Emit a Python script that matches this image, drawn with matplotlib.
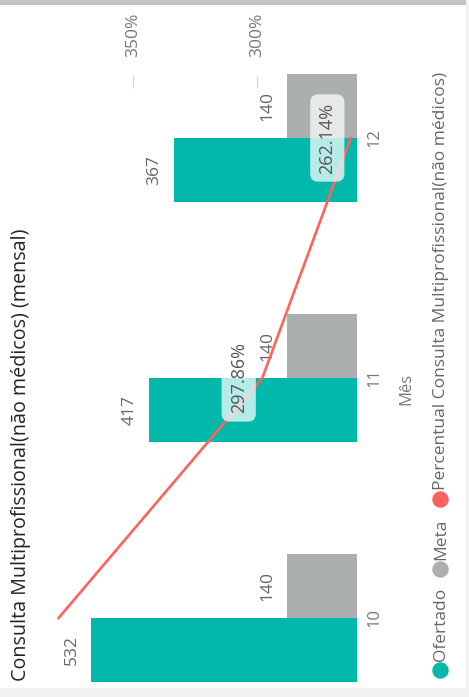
import matplotlib.pyplot as plt
from matplotlib.lines import Line2D
from matplotlib.patches import Rectangle

meses = ['10', '11', '12']
ofertado = [532, 417, 367]
meta = [140, 140, 140]
percentual = [380.00, 297.86, 262.14]
pct_labels = ['', '297.86%', '262.14%']

teal = '#01b8aa'
cinza = '#abafb0'
vermelho = '#fd625e'
plt.rcParams['font.family'] = ['Open Sans', 'DejaVu Sans']

W, H = 469, 697
fig = plt.figure(figsize=(W / 100, H / 100), dpi=100)
fig.patch.set_facecolor('white')


def fx(px):
    return px / W


def fy(py):
    return 1 - py / H


# moldura do print
fig.add_artist(Rectangle((0, fy(5)), 1, 5 / H, transform=fig.transFigure, color='#c4c4c4', lw=0))
fig.add_artist(Rectangle((0, 0), 1, fy(688), transform=fig.transFigure, color='#f2f2f2', lw=0))
fig.add_artist(Rectangle((fx(466), 0), 3 / W, 1, transform=fig.transFigure, color='#f2f2f2', lw=0))

ax = fig.add_axes([fx(40), fy(690), fx(357) - fx(40), fy(88) - fy(690)])
pos = list(range(len(meses)))
h = 0.2667
ax.barh([p - h / 2 for p in pos], ofertado, height=h, color=teal, clip_on=False)
ax.barh([p + h / 2 for p in pos], meta, height=h, color=cinza, clip_on=False)
ax.set_xlim(634, 0)
ax.set_ylim(-0.3, 2.2083)

for p, v in zip(pos, ofertado):
    ax.annotate(str(v), (v, p - h / 2), xytext=(-8, 0), textcoords='offset points',
                rotation=90, ha='right', va='center', fontsize=12.5, color='#666666')
for p, v in zip(pos, meta):
    ax.annotate(str(v), (v, p + h / 2), xytext=(-8, 0), textcoords='offset points',
                rotation=90, ha='right', va='center', fontsize=12.5, color='#666666')

for s in ax.spines.values():
    s.set_visible(False)
ax.set_xticks([])
ax.yaxis.tick_right()
ax.set_yticks(pos)
ax.set_yticklabels(meses, rotation=90, va='center', fontsize=12, color='#777777')
ax.tick_params(axis='y', length=0, pad=7)
ax.yaxis.set_label_position('right')
ax.set_ylabel('Mês', rotation=90, fontsize=12, color='#777777', labelpad=11)

ax2 = ax.twiny()
ax2.set_xlim(387.5, 259.68)
ax2.plot(percentual, pos, color=vermelho, lw=1.9, clip_on=False, zorder=3)
for s in ax2.spines.values():
    s.set_visible(False)
ax2.set_xticks([300, 350])
ax2.set_xticklabels(['300%', '350%'], rotation=90, fontsize=12.5, color='#777777')
ax2.tick_params(axis='x', direction='out', length=9, width=0.8, color='#d0d0d0', pad=13)
for p, v, t in zip(pos, percentual, pct_labels):
    if t:
        ax2.annotate(t, (v, p), xytext=(-17, 0), textcoords='offset points',
                     rotation=90, ha='center', va='center', fontsize=13, color='#555555',
                     zorder=5,
                     bbox=dict(boxstyle='round,pad=0.45', fc='white', ec='none', alpha=0.72))

# titulo
fig.text(fx(21), fy(681), 'Consulta Multiprofissional(não médicos) (mensal)', rotation=90,
         ha='center', va='bottom', fontsize=14.2, color='#252423')

# legenda
fig.canvas.draw()
r = fig.canvas.get_renderer()
y = 670
itens = [('Ofertado', teal), ('Meta', cinza),
         ('Percentual Consulta Multiprofissional(não médicos)', vermelho)]
for nome, cor in itens:
    fig.add_artist(Line2D([fx(440)], [fy(y)], marker='o', markersize=10.8, color=cor,
                          lw=0, transform=fig.transFigure))
    t = fig.text(fx(441), fy(y - 9), nome, rotation=90, ha='center', va='bottom',
                 fontsize=12.5, color='#666666')
    bb = t.get_window_extent(r)
    y = H - bb.y1 - 19

fig.savefig('out.png', dpi=100)
